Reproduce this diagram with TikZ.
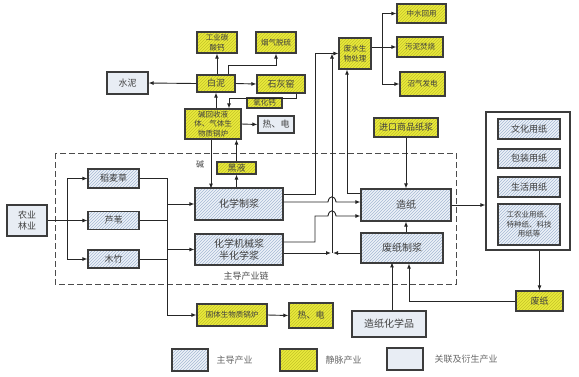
\documentclass[tikz,border=0pt]{standalone}
\usepackage{fontspec}
\setmainfont{Noto Sans CJK SC}
\usetikzlibrary{arrows.meta,patterns}

\definecolor{veinfill}{RGB}{234,234,60}
\definecolor{veinhatch}{RGB}{196,196,40}
\definecolor{leadfill}{RGB}{238,242,248}
\definecolor{leadhatch}{RGB}{165,185,212}
\definecolor{relfill}{RGB}{232,237,244}
\definecolor{boxline}{RGB}{60,60,60}

\begin{document}
\begin{tikzpicture}[x=1pt, y=-1pt,
    box/.style={draw=boxline, line width=1.2pt, align=center, inner sep=0pt,
        text=black!75, font=\fontsize{9}{10.5}\selectfont},
    leadbox/.style={box, preaction={fill=leadfill}, pattern=north east lines, pattern color=leadhatch},
    veinbox/.style={box, preaction={fill=veinfill}, pattern=north east lines, pattern color=veinhatch},
    relbox/.style={box, fill=relfill},
    wh/.style 2 args={minimum width=#1pt, minimum height=#2pt},
    tiny/.style={font=\fontsize{7.5}{9.5}\selectfont},
    big/.style={font=\fontsize{10}{12}\selectfont},
    link/.style={line width=0.9pt, draw=black!85},
    arr/.style={link, -{Latex[length=5pt,width=4pt]}}]
    \useasboundingbox (0,0) rectangle (579,376);

    % Main chain frame
    \draw[dash pattern=on 6pt off 3pt, line width=1pt, black!70] (55,153) rectangle (456,284);
    \node[text=black!70, font=\fontsize{9}{10}\selectfont] (chain) at (246,276) {主导产业链};

    % Raw material
    \node[relbox, wh={40}{31}] (nylv) at (27,220.5) {农业\\林业};
    \node[leadbox, wh={51}{19}] (dmc) at (113.5,178.5) {稻麦草};
    \node[leadbox, wh={51}{18}] (lw) at (113.5,220.5) {芦苇};
    \node[leadbox, wh={51}{18}] (mz) at (113.5,259) {木竹};

    % Pulping and paper
    \node[leadbox, big, wh={88}{32}] (hxzj) at (239,204) {化学制浆};
    \node[leadbox, big, wh={88}{31}] (hxjx) at (239,249.5) {化学机械浆\\半化学浆};
    \node[leadbox, big, wh={90}{32}] (zz) at (406,205) {造纸};
    \node[leadbox, big, wh={82}{30}] (fzzj) at (402,248) {废纸制浆};
    \node[veinbox, wh={64}{19}] (jksp) at (406,127.5) {进口商品纸浆};

    % Alkali recovery side
    \node[veinbox, tiny, wh={56}{30}] (jhs) at (213,124) {碱回收液\\体、气体生\\物质锅炉};
    \node[relbox, wh={36}{17}] (rd1) at (276,124.5) {热、电};
    \node[veinbox, wh={39}{12}] (hy) at (236.5,168) {黑液};
    \node[veinbox, wh={38}{17}] (bn) at (216,83.5) {白泥};
    \node[veinbox, wh={48}{18}] (shy) at (281,84) {石灰窑};
    \node[veinbox, tiny, wh={35}{10}] (yhg) at (264.5,103) {氧化钙};
    \node[relbox, wh={41}{22}] (sn) at (127.5,83) {水泥};
    \node[veinbox, tiny, wh={40}{21}] (gyts) at (217,42.5) {工业碳\\酸钙};
    \node[veinbox, tiny, wh={40}{21}] (yqtl) at (276,42.5) {烟气脱硫};

    % Waste water
    \node[veinbox, tiny, wh={32}{31}] (fscl) at (355,53.5) {废水生\\物处理};
    \node[veinbox, tiny, wh={49}{19}] (zshy) at (421.5,13.5) {中水回用};
    \node[veinbox, tiny, wh={46}{20}] (wnfs) at (420,47) {污泥焚烧};
    \node[veinbox, tiny, wh={45}{24}] (zqfd) at (422.5,84) {沼气发电};

    % Products
    \node[draw=boxline, line width=1.2pt, fill=white, wh={84}{138}] (cp) at (528,181) {};
    \node[leadbox, wh={62}{20}] (whyz) at (529,129) {文化用纸};
    \node[leadbox, wh={62}{19}] (bzyz) at (529,158.5) {包装用纸};
    \node[leadbox, wh={62}{20}] (shyz) at (529,187) {生活用纸};
    \node[leadbox, tiny, wh={62}{41}] (gyyz) at (529,224.5) {工农业用纸、\\特种纸、科技\\用纸等};
    \node[veinbox, wh={47}{20}] (fz) at (539.5,301) {废纸};
    \node[relbox, big, wh={74}{26}] (zzhxp) at (389,324) {造纸化学品};

    % Biomass boiler
    \node[veinbox, tiny, wh={70}{22}] (gtsw) at (232,315) {固体生物质锅炉};
    \node[veinbox, wh={44}{25}] (rd2) at (311,315.5) {热、电};

    % Legend
    \node[leadbox, wh={36}{22}] (lgA) at (190,360) {};
    \node[anchor=west, text=black!60, font=\fontsize{9}{10}\selectfont] (lgAt) at (213,360) {主导产业};
    \node[veinbox, wh={37}{22}] (lgB) at (298.5,360) {};
    \node[anchor=west, text=black!60, font=\fontsize{9}{10}\selectfont] (lgBt) at (322,360) {静脉产业};
    \node[relbox, wh={36}{22}] (lgC) at (405,359) {};
    \node[anchor=west, text=black!60, font=\fontsize{9}{10}\selectfont] (lgCt) at (431,359) {关联及衍生产业};

    % Junctions
    \coordinate (sp) at (67,220.5);
    \coordinate (rb) at (167,315);
    \coordinate (jA) at (315,194);
    \coordinate (jB) at (332,253);
    \coordinate (jC) at (347,193);
    \coordinate (kA) at (315,242);
    \coordinate (hop1) at (332,202);
    \coordinate (hop2) at (332,216);
    \coordinate (fs) at (382,47);

    % Raw material to pulping
    \draw[link] (nylv.east) -- (sp);
    \draw[arr] (sp) |- (dmc.west);
    \draw[arr] (sp) -- (lw.west);
    \draw[arr] (sp) |- (mz.west);
    \draw[arr] (dmc.east) -| (rb) -- (gtsw.west);
    \draw[link] (lw.east) -- (lw.east -| rb);
    \draw[link] (mz.east) -- (mz.east -| rb);
    \draw[arr] (hxzj.west -| rb) -- (hxzj.west);
    \draw[arr] (hxjx.west -| rb) -- (hxjx.west);
    \draw[arr] (gtsw.east) -- (rd2.west);

    % Pulp to paper
    \draw[arr] (hxzj.east |- hop1) -- ([xshift=-4pt]hop1) .. controls +(1,-7) and +(-1,-7) .. ([xshift=4pt]hop1) -- (zz.west |- hop1);
    \draw[arr] (hxjx.east |- kA) -- (kA) |- ([xshift=-4pt]hop2) .. controls +(1,-7) and +(-1,-7) .. ([xshift=4pt]hop2) -- (zz.west |- hop2);
    \draw[arr] (jksp.south) -- (zz.north);
    \draw[arr] (zz.south |- fzzj.north) -- (zz.south);
    \draw[arr] (zz.east) -- (cp.west |- zz.east);
    \draw[arr] (fz.north |- cp.south) -- (fz.north);
    \draw[arr] (fz.west) -| ([xshift=7pt]fzzj.south);
    \draw[arr] ([xshift=3pt]zzhxp.north) -- ++(0,-48);

    % Waste water
    \draw[arr] (hxzj.east |- jA) -- (jA) |- (fscl.west);
    \draw[arr] (hxjx.east |- jB) -- ([xshift=-1pt]jB);
    \draw[arr] (fzzj.west |- jB) -- ([xshift=1pt]jB);
    \draw[arr] (jB) -- (jB |- fscl.west);
    \draw[arr] (zz.west |- jC) -- (jC) -- (jC |- fscl.south);
    \draw[link] (fscl.east |- fs) -- (fs);
    \draw[arr] (fs) |- (zshy.west);
    \draw[arr] (fs) -- (wnfs.west);
    \draw[arr] (fs) |- (zqfd.west);

    % Alkali recovery
    \draw[arr] ([xshift=-2pt]jhs.south) -- ++(0,49) node[midway, left, xshift=-3pt, text=black!75, font=\fontsize{8}{9}\selectfont] {碱};
    \draw[arr] (hy.south |- hxzj.north) -- (hy.south);
    \draw[arr] (hy.north) -- (hy.north |- jhs.south);
    \draw[arr] (jhs.east) -- (rd1.west);
    \draw[arr] (bn.south |- jhs.north) -- (bn.south);
    \draw[arr] (gyts.south |- bn.north) -- (gyts.south);
    \draw[arr] (bn.west) -- (sn.east);
    \draw[arr] (bn.east) -- (shy.west);
    \draw[arr] ([xshift=12pt]bn.north) -- ++(0,-9) -| (yqtl.south);
    \draw[arr] ([xshift=-9pt]shy.south east) -- ++(0,5) -| ([xshift=16pt]jhs.north);
\end{tikzpicture}
\end{document}
